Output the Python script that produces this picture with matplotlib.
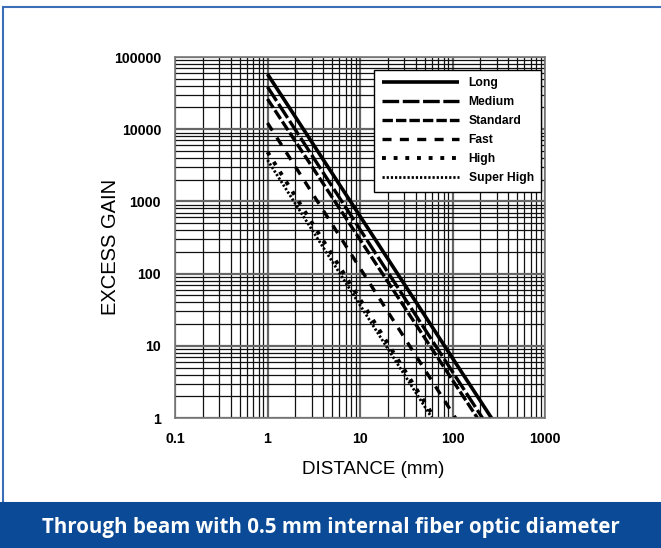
import numpy as np
import matplotlib
matplotlib.use('Agg')
import matplotlib.pyplot as plt
from matplotlib.patches import Rectangle
from matplotlib.lines import Line2D
from matplotlib.ticker import LogLocator, NullFormatter, FixedLocator

plt.rcParams['font.family'] = ['Liberation Sans', 'DejaVu Sans']
plt.rcParams['lines.scale_dashes'] = False

# curve data: distance (mm) vs excess gain
names = ['Long', 'Medium', 'Standard', 'Fast', 'High', 'Super High']
dist_start = [1, 1, 1, 1, 1, 1]
gain_start = [58000, 38500, 26200, 12200, 4840, 3740]
dist_end = [264, 211, 186, 108, 64, 60]
gain_end = [1, 1, 1, 1, 1, 1]

x_ticks = [0.1, 1, 10, 100, 1000]
x_labels = ['0.1', '1', '10', '100', '1000']
y_ticks = [1, 10, 100, 1000, 10000, 100000]
y_labels = ['1', '10', '100', '1000', '10000', '100000']

styles = [
    dict(lw=2.6, ls='-'),
    dict(lw=2.4, ls=(0, (12, 2.6))),
    dict(lw=2.4, ls=(0, (7.5, 2.2))),
    dict(lw=2.4, ls=(0, (6.5, 6))),
    dict(lw=2.8, ls=(0, (2.8, 5.6))),
    dict(lw=2.0, ls=(0, (1.6, 1.4))),
]

fig = plt.figure(figsize=(6.61, 5.48), dpi=100)

# outer frame and banner
fig.add_artist(Rectangle((3 / 661, 45 / 548), 1.0, 1 - 52 / 548, transform=fig.transFigure,
                         fill=False, ec='#3a6fb8', lw=1.5))
fig.add_artist(Rectangle((0, 0), 1, 46 / 548, transform=fig.transFigure,
                         fc='#0b4a96', ec='none'))
fig.text(0.5, 21 / 548, 'Through beam with 0.5 mm internal fiber optic diameter',
         ha='center', va='center', color='white', fontsize=14.8,
         fontweight='bold', family=['Open Sans', 'DejaVu Sans'])

ax = fig.add_axes([175 / 661, 1 - 418 / 548, 370 / 661, 361 / 548])
ax.set_xscale('log')
ax.set_yscale('log')
ax.set_xlim(0.1, 1000)
ax.set_ylim(1, 100000)

ax.xaxis.set_major_locator(FixedLocator(x_ticks))
ax.yaxis.set_major_locator(FixedLocator(y_ticks))
ax.set_xticklabels(x_labels)
ax.set_yticklabels(y_labels)
ax.xaxis.set_minor_locator(LogLocator(base=10, subs=np.arange(2, 10)))
ax.yaxis.set_minor_locator(LogLocator(base=10, subs=np.arange(2, 10)))
ax.xaxis.set_minor_formatter(NullFormatter())
ax.yaxis.set_minor_formatter(NullFormatter())
ax.tick_params(which='both', length=0, pad=10)
for lab in ax.get_xticklabels() + ax.get_yticklabels():
    lab.set_fontweight('bold')
    lab.set_fontsize(10.2)

ax.grid(True, which='major', color='#666666', lw=1.6)
ax.grid(True, which='minor', color='#111111', lw=0.9)
for s in ax.spines.values():
    s.set_color('#777777')
    s.set_linewidth(1.2)

for i, name in enumerate(names):
    ax.plot([dist_start[i], dist_end[i]], [gain_start[i], gain_end[i]],
            color='black', solid_capstyle='butt', dash_capstyle='butt',
            label=name, **styles[i])

handles = [Line2D([], [], color='black', solid_capstyle='butt', dash_capstyle='butt', **st)
           for st in styles]
leg = ax.legend(handles, names, loc='upper right', bbox_to_anchor=(0.989, 0.964),
                borderaxespad=0, handlelength=6.4, handletextpad=0.8, labelspacing=0.58,
                borderpad=0.6, fancybox=False, framealpha=1,
                prop={'weight': 'bold', 'size': 8.7})
leg.get_frame().set_edgecolor('black')
leg.get_frame().set_linewidth(1.0)

ax.set_xlabel('DISTANCE (mm)', fontsize=13.5)
ax.set_ylabel('EXCESS GAIN', fontsize=14.5)
ax.xaxis.set_label_coords(0.535, -0.12)
ax.yaxis.set_label_coords(-0.149, 0.474)

fig.savefig('out.png', dpi=100)
